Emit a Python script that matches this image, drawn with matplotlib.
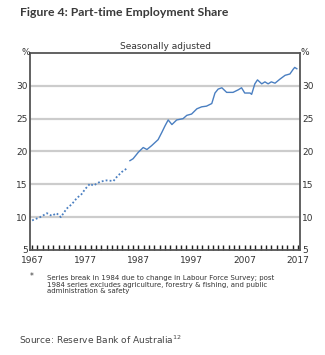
import matplotlib
matplotlib.use("Agg")
import matplotlib.pyplot as plt
import numpy as np

# part-time share of employment, per cent (pre-1984 series shown dotted)
pre_years = [1967, 1968.5, 1969.8, 1970.7, 1971.6, 1972.4, 1973.5, 1974.5,
             1975.4, 1976.3, 1977, 1977.9, 1978.5, 1979.8, 1981, 1982.3,
             1982.9, 1983.9, 1984.8]
pre_share = [9.5, 10.0, 10.6, 10.2, 10.6, 10.0, 11.3, 12.0,
             12.9, 13.5, 14.3, 15.1, 14.8, 15.4, 15.6, 15.5,
             16.1, 16.9, 17.4]

post_years = [1985.4, 1986, 1987, 1987.9, 1988.6, 1989.5, 1990.7, 1991.4,
              1992, 1992.6, 1993.3, 1994.2, 1995.4, 1996.1, 1997, 1998,
              1998.9, 1999.8, 2000.8, 2001.4, 2002, 2002.7, 2003.6, 2004.8,
              2005.8, 2006.4, 2007, 2008, 2008.3, 2008.9, 2009.4, 2010.2,
              2010.8, 2011.4, 2012, 2012.7, 2013.6, 2014.6, 2015.5, 2016.1,
              2016.4, 2016.8]
post_share = [18.6, 18.9, 19.9, 20.6, 20.3, 20.9, 21.8, 22.9,
              23.9, 24.8, 24.1, 24.8, 25.0, 25.5, 25.7, 26.5,
              26.8, 26.9, 27.3, 28.9, 29.5, 29.7, 29.0, 29.0,
              29.4, 29.7, 28.9, 28.9, 28.7, 30.3, 30.9, 30.3,
              30.6, 30.3, 30.6, 30.4, 31.0, 31.6, 31.8, 32.5,
              32.8, 32.6]

year_labels = [1967, 1977, 1987, 1997, 2007, 2017]
y_ticks = [5, 10, 15, 20, 25, 30]

line_col = "#4a7fc1"
frame_col = "#555555"
text_col = "#333333"

fig = plt.figure(figsize=(3.25, 3.55), dpi=100)
ax = fig.add_axes([0.0923, 0.2958, 0.8308, 0.555])

for v in y_ticks[1:]:
    ax.axhline(v, color="#cccccc", lw=1.6, zorder=1)

ax.plot(pre_years, pre_share, color=line_col, lw=1.3, ls=(0, (1, 1.2)), zorder=3)
ax.plot(post_years, post_share, color=line_col, lw=1.0, zorder=3)

ax.set_xlim(1966.6, 2017.4)
ax.set_ylim(5, 35)

for s in ax.spines.values():
    s.set_color(frame_col)
    s.set_linewidth(1.3)

ax.set_xticks(year_labels)
ax.set_xticklabels([str(y) for y in year_labels])
ax.set_xticks(np.arange(1967, 2018), minor=True)
ax.tick_params(axis="x", which="both", direction="in", length=3.5, width=1.0,
               color="#222222", labelsize=6.5, labelcolor=text_col, pad=4)

ax.set_yticks(y_ticks)
ax.set_yticklabels([str(v) for v in y_ticks])
ax.tick_params(axis="y", which="both", length=0, labelsize=6.5, labelcolor=text_col,
               pad=1.5, left=True, right=True, labelleft=True, labelright=True)

ax.text(0, 1.0, "%", transform=ax.transAxes, ha="right", va="center",
        fontsize=6.5, color=text_col)
ax.text(1.0, 1.0, "%", transform=ax.transAxes, ha="left", va="center",
        fontsize=6.5, color=text_col)
ax.text(0.5, 1.012, "Seasonally adjusted", transform=ax.transAxes, ha="center",
        va="bottom", fontsize=6.5, color=text_col)

fig.text(20 / 325, 1 - 13 / 355, "Figure 4: Part-time Employment Share",
         fontsize=8.8, fontweight="bold", family="Lato", color="#3a3a3a",
         va="center", ha="left")

fig.text(30 / 325, 1 - 277 / 355, "*", fontsize=5.5, color=text_col, va="center")
fig.text(47 / 325, 1 - 275 / 355,
         "Series break in 1984 due to change in Labour Force Survey; post\n"
         "1984 series excludes agriculture, forestry & fishing, and public\n"
         "administration & safety",
         fontsize=5, color=text_col, va="top", ha="left", linespacing=1.15)

fig.text(19 / 325, 1 - 340 / 355, r"Source: Reserve Bank of Australia$^{12}$",
         fontsize=6.5, color="#444444", va="center", ha="left")

fig.savefig("out.png", dpi=100)
